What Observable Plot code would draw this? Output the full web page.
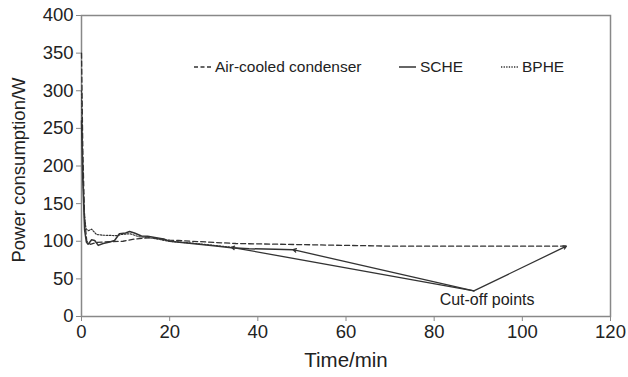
<!DOCTYPE html>
<html>
<head>
<meta charset="utf-8">
<script src="https://cdn.jsdelivr.net/npm/d3@7"></script>
<script src="https://cdn.jsdelivr.net/npm/@observablehq/plot@0.6"></script>
<style>
  html, body { margin: 0; padding: 0; background: #fff; }
  #wrap { position: relative; width: 628px; height: 377px; font-family: "Liberation Sans", Arial, sans-serif; }
  .leg { position: absolute; top: 58px; font-size: 15.5px; color: #222; white-space: nowrap; display: flex; align-items: center; }
  .leg svg { margin-right: 4px; }
  #ylab { position: absolute; left: 19px; top: 170px; transform: translate(-50%, -50%) rotate(-90deg); font-size: 18.5px; color: #222; white-space: nowrap; }
</style>
</head>
<body>
<div id="wrap"></div>
<script>
// Air-cooled condenser (dashed)
const airT = [0, 0.3, 0.7, 1.2, 2, 3.4, 6.4, 9.4, 11.6, 13.9, 16, 18, 20, 22, 25, 30, 35, 40, 45, 50, 60, 70, 80, 90, 100, 110];
const airW = [350, 220, 130, 100, 96, 98.5, 99.5, 100, 102.5, 104, 104.5, 103, 101.5, 101, 100, 98.5, 97, 96.5, 96, 95.5, 94.5, 93.5, 93.5, 93.5, 93.5, 93.5];
// SCHE (solid)
const scheT = [0, 0.3, 0.7, 1.1, 1.5, 2.3, 3, 3.8, 4.9, 6.4, 7.5, 8.6, 10, 10.9, 12, 13.6, 15, 18.6, 20, 25, 30, 34, 38, 44, 48];
const scheW = [260, 180, 115, 99, 96, 102, 101, 94.5, 97, 99, 101, 110, 111, 113, 111, 107, 106.5, 103, 100, 97, 94, 91.5, 90, 89.3, 88.8];
// BPHE (dotted)
const bpheT = [0, 0.3, 0.6, 1, 1.5, 2.3, 3.4, 5, 8, 9, 11, 13, 15, 18, 20, 25, 30, 34];
const bpheW = [300, 200, 140, 117, 114, 116, 109, 108, 107.5, 109, 110, 106, 105, 102, 100, 97.5, 94.5, 92];
// Cut-off annotation: from label vertex to each cut-off point
const cutVertex = [89, 34];
const cutT = [34, 48, 110];
const cutW = [92, 88.8, 93.5];
const cutLabel = "Cut-off points";
const cutLabelPos = [92, 22];

const xTicks = [0, 20, 40, 60, 80, 100, 120];
const yTicks = [0, 50, 100, 150, 200, 250, 300, 350, 400];
const xTitle = "Time/min";
const yTitle = "Power consumption/W";

const toRows = (T, W) => T.map((t, i) => ({t, w: W[i]}));
const air = toRows(airT, airW), sche = toRows(scheT, scheW), bphe = toRows(bpheT, bpheW);
const arrows = cutT.map((t, i) => ({x1: cutVertex[0], y1: cutVertex[1], x2: t, y2: cutW[i]}));

const ink = "#333";
const plot = Plot.plot({
  width: 628, height: 377,
  marginLeft: 81, marginRight: 18, marginTop: 15, marginBottom: 61,
  style: {fontFamily: "Liberation Sans, Arial, sans-serif", background: "#fff", color: "#222"},
  x: {domain: [0, 120]},
  y: {domain: [0, 400]},
  marks: [
    Plot.frame({stroke: "#888", strokeWidth: 1.5}),
    Plot.axisX({ticks: xTicks, tickSize: 5, tickPadding: 3, fontSize: 18.5, stroke: "#888",
      label: xTitle, labelAnchor: "center", labelArrow: "none", labelOffset: 50}),
    Plot.axisY({ticks: yTicks, tickSize: 5, tickPadding: 3, fontSize: 18.5, stroke: "#888", label: null}),
    Plot.line(air, {x: "t", y: "w", stroke: ink, strokeWidth: 1.3, strokeDasharray: "5,3"}),
    Plot.line(bphe, {x: "t", y: "w", stroke: ink, strokeWidth: 1.2, strokeDasharray: "1.5,1.5"}),
    Plot.line(sche, {x: "t", y: "w", stroke: ink, strokeWidth: 1.5}),
    Plot.arrow(arrows, {x1: "x1", y1: "y1", x2: "x2", y2: "y2", stroke: ink, strokeWidth: 1.3, headLength: 4, insetEnd: 0}),
    Plot.text([cutLabel], {x: cutLabelPos[0], y: cutLabelPos[1], text: d => d, fontSize: 16, fill: "#222"})
  ]
});
const wrap = document.getElementById("wrap");
wrap.appendChild(plot);
d3.select(plot).selectAll('[aria-label="x-axis label"] text').attr("font-size", 20.5);

const yl = document.createElement("div");
yl.id = "ylab";
yl.textContent = yTitle;
wrap.appendChild(yl);

// Legend overlay
const legendItems = [
  {label: "Air-cooled condenser", dash: "4,2.5", left: 194},
  {label: "SCHE", dash: null, left: 399},
  {label: "BPHE", dash: "1.3,1.3", left: 501}
];
for (const it of legendItems) {
  const d = document.createElement("div");
  d.className = "leg";
  d.style.left = it.left + "px";
  d.innerHTML = `<svg width="17" height="10"><line x1="0" y1="5" x2="17" y2="5" stroke="${ink}" stroke-width="1.5" ${it.dash ? `stroke-dasharray="${it.dash}"` : ""}/></svg><span>${it.label}</span>`;
  wrap.appendChild(d);
}
</script>
</body>
</html>
